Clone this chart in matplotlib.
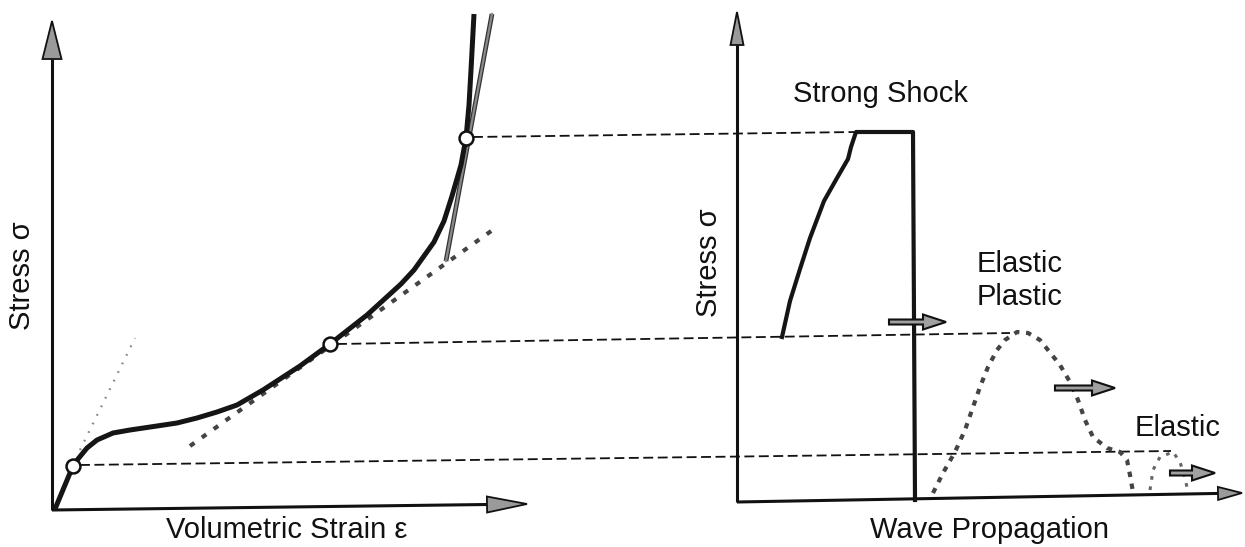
import numpy as np
import matplotlib
matplotlib.use("Agg")
import matplotlib.pyplot as plt
from matplotlib.patches import Polygon, FancyArrow

plt.rcParams['font.family'] = ['Liberation Sans', 'DejaVu Sans']

# ---- left panel: stress vs volumetric strain (drawing units = pixels) ----
curve_x = [55, 60, 65, 70, 73, 78, 87, 97, 113, 130, 157, 177, 197, 217, 237,
           263, 300, 330, 367, 401, 414, 434, 444, 452, 461, 466, 469, 471, 474]
curve_y = [509, 497, 485, 473, 466, 459, 448, 440, 433, 430, 426, 423, 418, 412, 405,
           390, 366, 344, 315, 284, 270, 242, 221, 196, 165, 138, 105, 70, 14]

# steep shock tangent
steep_x = [446, 492]
steep_y = [261, 14]

# initial elastic tangent (dotted)
elastic_x = [80, 135]
elastic_y = [450, 338]

# plastic tangent through the middle point
plastic_x = [190, 494]
plastic_y = [446, 229]

# marked states on the curve
pts_x = [73, 330, 466]
pts_y = [466, 344, 138]

# ---- right panel: stress profile vs wave propagation ----
shock_x = [782, 790, 800, 810, 824, 837, 848, 851, 856, 913, 915]
shock_y = [337, 301, 269, 238, 201, 178, 159, 147, 132, 132, 500]

wave_x = [933, 943, 955, 965, 972, 980, 988, 997, 1005, 1017, 1028, 1040, 1048,
          1060, 1070, 1078, 1085, 1093, 1107, 1120, 1127, 1130, 1133]
wave_y = [493, 473, 452, 430, 410, 387, 367, 350, 340, 332, 333, 340, 350,
          365, 382, 400, 420, 437, 448, 452, 460, 475, 492]

tail_x = [1150, 1153, 1160, 1173, 1180, 1185, 1188]
tail_y = [490, 470, 457, 452, 462, 478, 492]

# dashed links from curve points to the wave profile: (x0, y0, x1, y1)
links = [(473, 137, 856, 132),
         (337, 344, 1010, 333),
         (80, 465, 1171, 451)]

# propagation arrows: (x start, x end, y)
prop_arrows = [(889, 946, 322), (1055, 1115, 388), (1170, 1215, 473)]

fig = plt.figure(figsize=(12.45, 5.47), dpi=100)
ax = fig.add_axes([0, 0, 1, 1])
ax.set_xlim(0, 1245)
ax.set_ylim(547, 0)
ax.axis('off')


def axis_arrow(start, tip, hl, hw, lw=2.2):
    start = np.array(start, float)
    tip = np.array(tip, float)
    u = (tip - start) / np.hypot(*(tip - start))
    n = np.array([-u[1], u[0]])
    base = tip - hl * u
    ax.plot([start[0], base[0]], [start[1], base[1]], color='#111', lw=lw,
            solid_capstyle='butt', zorder=3)
    ax.add_patch(Polygon([tip, base + hw / 2 * n, base - hw / 2 * n],
                         closed=True, fc='#9a9a9a', ec='#111', lw=1.3, zorder=4))


# axes
axis_arrow((52, 510), (52, 21), 38, 19)
axis_arrow((52, 510), (527, 504), 40, 16)
axis_arrow((737, 502), (737, 12), 33, 13)
axis_arrow((737, 502), (1242, 493), 24, 13)

# dashed links
for x0, y0, x1, y1 in links:
    ax.plot([x0, x1], [y0, y1], color='#111', lw=1.3, dashes=(5.5, 2.5), zorder=2)

# tangents
ax.plot(elastic_x, elastic_y, color='#888', lw=1.6, dashes=(0.8, 3.5), zorder=2)
ax.plot(plastic_x, plastic_y, color='#444', lw=3, dashes=(1.3, 2.2), zorder=2)
ax.plot(steep_x, steep_y, color='#333', lw=3.4, zorder=3, solid_capstyle='butt')
ax.plot(steep_x, steep_y, color='#8a8a8a', lw=1.6, zorder=3)

# main curve
ax.plot(curve_x, curve_y, color='#151515', lw=3.6, zorder=4,
        solid_joinstyle='round', solid_capstyle='butt')
ax.plot(pts_x, pts_y, 'o', ms=10, mfc='white', mec='#111', mew=1.8, zorder=6)

# strong shock profile
ax.plot(shock_x, shock_y, color='#151515', lw=3, zorder=4, solid_joinstyle='round')

# elastic-plastic wave and elastic precursor
ax.plot(wave_x, wave_y, color='#444', lw=3, dashes=(1.3, 1.6), zorder=3)
ax.plot(tail_x, tail_y, color='#666', lw=2.2, dashes=(1.2, 2.2), zorder=3)

for x0, x1, y in prop_arrows:
    ax.add_patch(FancyArrow(x0, y, x1 - x0, 0, width=5, head_width=15,
                            head_length=23, length_includes_head=True,
                            fc='#a0a0a0', ec='#111', lw=1.5, zorder=7))

# labels
tkw = dict(color='#111', fontsize=21)
ax.text(22, 276, 'Stress σ', rotation=90, ha='center', va='center', **tkw)
ax.text(287, 530, 'Volumetric Strain ε', ha='center', va='center', **tkw)
ax.text(709, 263, 'Stress σ', rotation=90, ha='center', va='center', **tkw)
ax.text(990, 530, 'Wave Propagation', ha='center', va='center', **tkw)
ax.text(880, 94, 'Strong Shock', ha='center', va='center', **tkw)
ax.text(977, 264, 'Elastic', ha='left', va='center', **tkw)
ax.text(977, 297, 'Plastic', ha='left', va='center', **tkw)
ax.text(1135, 428, 'Elastic', ha='left', va='center', **tkw)

fig.savefig('out.png', dpi=100)
